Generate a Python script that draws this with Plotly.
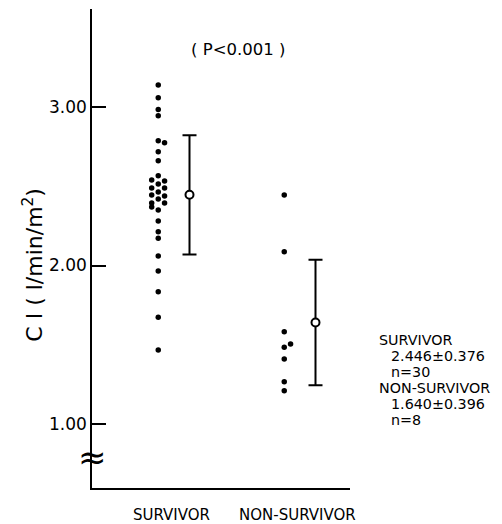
import plotly.graph_objects as go

# ---- data ----
groups = ["SURVIVOR", "NON-SURVIVOR"]
group_pos = [1, 2]

survivor_ci = [3.139, 3.059, 2.985, 2.945, 2.787, 2.775, 2.718, 2.661, 2.567,
               2.539, 2.533, 2.514, 2.489, 2.489, 2.464, 2.445, 2.438, 2.420,
               2.394, 2.394, 2.369, 2.350, 2.281, 2.213, 2.172, 2.060, 1.965,
               1.835, 1.673, 1.467]
nonsurvivor_ci = [2.445, 2.087, 1.582, 1.505, 1.484, 1.410, 1.267, 1.210]

group_means = [2.446, 1.640]
group_sds = [0.376, 0.396]
group_n = [30, 8]

y_tickvals = [1.00, 2.00, 3.00]
y_ticktext = ["1.00", "2.00", "3.00"]
p_text = "( P<0.001 )"

# ---- layout helpers (positions / styles) ----
surv_cols = ["M", "M", "M", "M", "M", "R", "M", "M", "M",
             "L", "R", "M", "L", "R", "M", "L", "R", "M",
             "L", "R", "L", "M", "M", "M", "M", "M", "M",
             "M", "M", "M"]
non_cols = ["M", "M", "M", "R", "M", "M", "M", "M"]
col_off = {"L": -0.177, "M": -0.125, "R": -0.075}
err_off = 0.123

FONT = "DejaVu Sans"

fig = go.Figure()

fig.add_trace(go.Scatter(
    x=[group_pos[0] + col_off[c] for c in surv_cols], y=survivor_ci,
    mode="markers", marker=dict(color="black", size=5.5), showlegend=False))
fig.add_trace(go.Scatter(
    x=[group_pos[1] + col_off[c] for c in non_cols], y=nonsurvivor_ci,
    mode="markers", marker=dict(color="black", size=5.5), showlegend=False))

fig.add_trace(go.Scatter(
    x=[p + err_off for p in group_pos], y=group_means,
    mode="markers",
    error_y=dict(type="data", array=group_sds, visible=True,
                 color="black", thickness=2, width=7),
    marker=dict(color="white", size=8, line=dict(color="black", width=2)),
    showlegend=False))

fig.update_xaxes(range=[0.3492, 2.3968], showgrid=False, zeroline=False,
                 showline=True, linecolor="black", linewidth=1.5,
                 showticklabels=False, ticks="")
fig.update_yaxes(range=[0.5962, 3.6183], showgrid=False, zeroline=False,
                 showline=True, linecolor="black", linewidth=1.5,
                 tickvals=y_tickvals, ticktext=y_ticktext,
                 ticks="inside", ticklen=14, tickwidth=1.5, tickcolor="black",
                 tickfont=dict(family=FONT, size=17, color="black"))

anns = []
for g, p in zip(groups, group_pos):
    anns.append(dict(x=p - 0.02, y=-0.056, xref="x", yref="paper", text=g,
                     showarrow=False, font=dict(family=FONT, size=15, color="black"),
                     xanchor="center", yanchor="middle"))
anns.append(dict(x=-0.229, y=0.466, xref="paper", yref="paper",
                 text="C I ( l/min/m<sup>2</sup>)", textangle=-90, showarrow=False,
                 font=dict(family=FONT, size=22, color="black"),
                 xanchor="center", yanchor="middle"))
anns.append(dict(x=1.508, y=3.36, xref="x", yref="y", text=p_text, showarrow=False,
                 font=dict(family=FONT, size=16.5, color="black"),
                 xanchor="center", yanchor="middle"))
lines = [(groups[0], 1.1047),
         (f"{group_means[0]:.3f}±{group_sds[0]:.3f}", 1.151),
         (f"n={group_n[0]}", 1.151),
         (groups[1], 1.1047),
         (f"{group_means[1]:.3f}±{group_sds[1]:.3f}", 1.151),
         (f"n={group_n[1]}", 1.151)]
ys = [340, 356, 372, 388, 404, 420]
for (t, xp), yp in zip(lines, ys):
    anns.append(dict(x=xp, y=(488 - yp) / 479, xref="paper", yref="paper", text=t,
                     showarrow=False, font=dict(family=FONT, size=14.3, color="black"),
                     xanchor="left", yanchor="middle"))
anns.append(dict(x=0, y=0.792, xref="paper", yref="y", text="≈", showarrow=False,
                 font=dict(family=FONT, size=34, color="black"),
                 xanchor="center", yanchor="middle"))
fig.update_layout(annotations=anns)

# page body has an 8px margin, so the figure is shrunk/offset to compensate
fig.update_layout(width=494, height=516,
                  margin=dict(l=84, r=152, t=1, b=36),
                  paper_bgcolor="white", plot_bgcolor="white",
                  font=dict(family=FONT, color="black"))

fig.write_html("out.html")
